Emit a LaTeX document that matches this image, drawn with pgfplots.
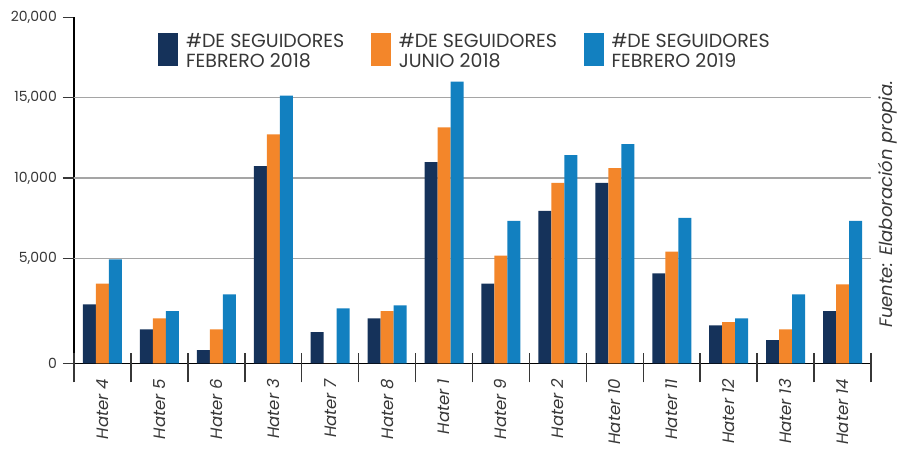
\documentclass[border=0pt]{standalone}
\usepackage{pgfplots}
\pgfplotsset{compat=1.18}
\usepackage{fontspec}
\setmainfont{Poppins}
\definecolor{cDark}{RGB}{21,50,90}
\definecolor{cOrange}{RGB}{243,134,42}
\definecolor{cBlue}{RGB}{18,128,192}
\definecolor{cText}{RGB}{55,55,55}
\definecolor{cGrid}{RGB}{165,165,165}
\begin{document}
\begin{tikzpicture}
\useasboundingbox (-74bp,-85.7bp) rectangle (828bp,363.3bp);
\begin{axis}[
  at={(0,0)}, anchor=south west,
  scale only axis, width=797bp, height=346bp,
  ybar=0pt, bar width=13bp,
  xmin=-0.5, xmax=13.5, ymin=0, ymax=20000,
  y coord trafo/.code={\begingroup\pgfkeys{/pgf/fpu=true,/pgf/fpu/output format=fixed}\pgfmathparse{ifthenelse(#1<5000,#1*1.307,#1+1535)}\global\let\mytrafores\pgfmathresult\endgroup\let\pgfmathresult\mytrafores},
  scaled y ticks=false,
  axis x line*=bottom, axis y line*=left,
  axis line style={black, line width=1.5bp},
  major tick length=11bp,
  ytick={0,5000,10000,15000,20000},
  yticklabels={0,{5,000},{10,000},{15,000},{20,000}},
  ytick align=outside,
  y tick style={cText, line width=1.2bp},
  yticklabel style={font=\fontsize{14bp}{16bp}\selectfont, text=cText, inner sep=0pt, xshift=-6bp},
  extra y ticks={5000,10000,15000},
  extra y tick labels={},
  extra y tick style={grid=major, major grid style={cGrid, line width=1.5bp}},
  xtick={0,1,...,13},
  xticklabels={Hater 4,Hater 5,Hater 6,Hater 3,Hater 7,Hater 8,Hater 1,Hater 9,Hater 2,Hater 10,Hater 11,Hater 12,Hater 13,Hater 14},
  x tick style={draw=none},
  xtick align=center,
  extra x ticks={-0.5,0.5,...,13.5},
  extra x tick labels={},
  extra x tick style={major tick length=29bp, x tick style={draw=cText, line width=1.5bp, yshift=-4.5bp}},
  xticklabel style={rotate=90, anchor=east, inner sep=0pt, font=\itshape\fontsize{16.5bp}{18bp}\selectfont, text=cText},
  xticklabel shift=10bp,
  legend columns=3,
  legend style={draw=none, fill=none, at={(0.1015,0.9604)}, anchor=north west,
    font=\fontsize{19bp}{20bp}\selectfont, text=cText,
    column sep=8bp, nodes={inner sep=0pt, align=left},
    /tikz/every even column/.append style={column sep=26.5bp}},
  legend image code/.code={\fill[#1, draw=none] (0bp,-15bp) rectangle (20bp,18bp);},
  clip=false,
]
\addplot[fill=cDark, draw=none] coordinates {(0,2810) (1,1620) (2,630) (3,10740) (4,1480) (5,2145) (6,10990) (7,3800) (8,7950) (9,9690) (10,4280) (11,1810) (12,1100) (13,2480)};
\addlegendentry{\#DE SEGUIDORES\\FEBRERO 2018}
\addplot[fill=cOrange, draw=none] coordinates {(0,3800) (1,2145) (2,1620) (3,12720) (4,0) (5,2480) (6,13150) (7,5170) (8,9690) (9,10610) (10,5420) (11,1960) (12,1620) (13,3760)};
\addlegendentry{\#DE SEGUIDORES\\JUNIO 2018}
\addplot[fill=cBlue, draw=none] coordinates {(0,4950) (1,2480) (2,3280) (3,15130) (4,2620) (5,2760) (6,16000) (7,7330) (8,11420) (9,12100) (10,7520) (11,2145) (12,3280) (13,7330)};
\addlegendentry{\#DE SEGUIDORES\\FEBRERO 2019}
\end{axis}
\node[rotate=90, font=\itshape\fontsize{18bp}{20bp}\selectfont, text=cText] at (814bp,159bp) {Fuente: Elaboración propia.};
\end{tikzpicture}
\end{document}
